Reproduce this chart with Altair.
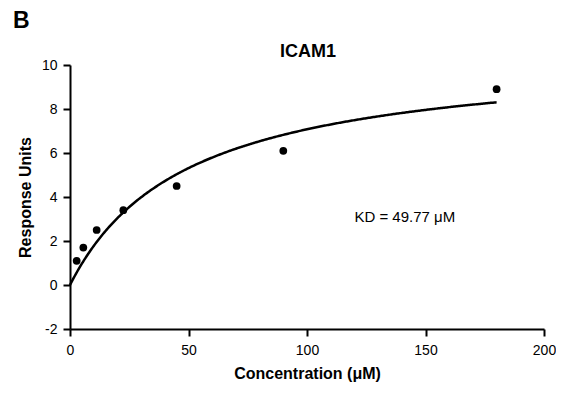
import altair as alt
import pandas as pd

# Data
conc = [2.8125, 5.625, 11.25, 22.5, 45, 90, 180]
resp = [1.1, 1.7, 2.5, 3.4, 4.5, 6.1, 8.9]
KD = 49.77
BMAX = 10.6
x_ticks = [0, 50, 100, 150, 200]
y_ticks = [-2, 0, 2, 4, 6, 8, 10]

FONT = "Liberation Sans"

pts = pd.DataFrame({"conc": conc, "resp": resp})

xscale = alt.Scale(domain=[0, 200], nice=False, zero=False)
yscale = alt.Scale(domain=[-2, 10], nice=False, zero=False)

xaxis = alt.Axis(values=x_ticks, title="Concentration (μM)", grid=False, labelFlush=False,
                 labelPadding=7, titlePadding=8, labelExpr="'' + datum.value")
yaxis = alt.Axis(values=y_ticks, title="Response Units", grid=False, labelFlush=False,
                 labelPadding=6, titlePadding=8, labelExpr="'' + datum.value")

points = alt.Chart(pts).mark_circle(size=60, color="black", opacity=1).encode(
    x=alt.X("conc:Q", scale=xscale, axis=xaxis),
    y=alt.Y("resp:Q", scale=yscale, axis=yaxis),
)

curve = alt.Chart(alt.sequence(0, 180.5, 0.5, as_="x")).transform_calculate(
    y=f"{BMAX} * datum.x / ({KD} + datum.x)"
).mark_line(color="black", strokeWidth=2.5).encode(
    x=alt.X("x:Q", scale=xscale, axis=xaxis),
    y=alt.Y("y:Q", scale=yscale, axis=yaxis),
)

kd_text = alt.Chart(pd.DataFrame({"x": [120], "y": [3.1], "t": [f"KD = {KD} μM"]})).mark_text(
    align="left", baseline="middle", fontSize=15, font=FONT, color="black"
).encode(x=alt.X("x:Q", scale=xscale), y=alt.Y("y:Q", scale=yscale), text="t:N")

panel = alt.Chart(pd.DataFrame({"t": ["B"]})).mark_text(
    align="left", baseline="alphabetic", fontSize=23, fontWeight="bold", font=FONT, color="black"
).encode(x=alt.value(-57), y=alt.value(-37), text="t:N")

title = alt.Chart(pd.DataFrame({"t": ["ICAM1"]})).mark_text(
    align="center", baseline="alphabetic", fontSize=18, fontWeight="bold", font=FONT, color="black"
).encode(x=alt.value(238), y=alt.value(-8), text="t:N")

chart = alt.layer(curve, points, kd_text, panel, title).properties(
    width=474, height=264,
    autosize=alt.AutoSizeParams(type="none"),
    padding={"left": 62, "top": 57, "right": 12, "bottom": 56},
).configure_view(stroke=None).configure_axis(
    domainColor="black", domainWidth=2, tickColor="black", tickWidth=2, tickSize=7,
    labelColor="black", labelFont=FONT, labelFontSize=14,
    titleColor="black", titleFont=FONT, titleFontSize=16, titleFontWeight="bold",
)

chart.save("out.html", embed_options={"renderer": "svg", "actions": False})
